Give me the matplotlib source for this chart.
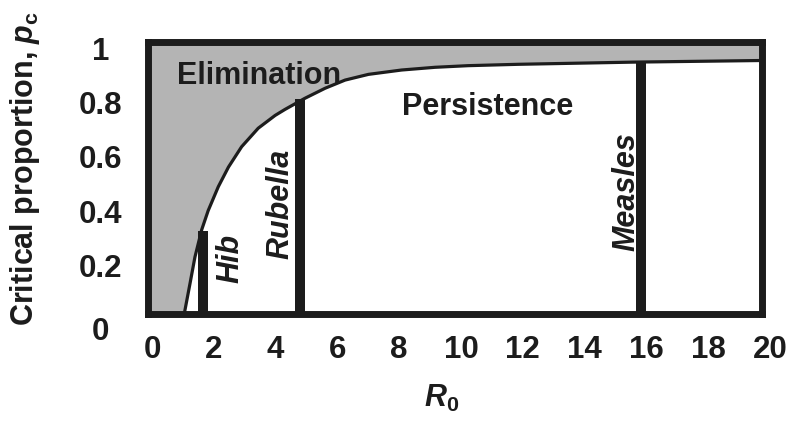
import matplotlib
matplotlib.use("Agg")
import matplotlib.pyplot as plt
import matplotlib.transforms as mtransforms

# ---- data ----
curve_r0 = [1.18, 1.37, 1.53, 1.75, 1.96, 2.29, 2.62, 3.05, 3.59, 4.14, 4.46, 5.11, 5.77,
            6.42, 7.18, 8.26, 9.35, 10.43, 12.06, 15.8, 20.0]
curve_pc = [0.0, 0.113, 0.21, 0.31, 0.38, 0.468, 0.54, 0.615, 0.683, 0.73, 0.752, 0.793, 0.83,
            0.86, 0.881, 0.897, 0.907, 0.913, 0.918, 0.926, 0.932]

diseases = ["Hib", "Rubella", "Measles"]
disease_r0 = [1.80, 4.95, 16.06]
disease_pc = [0.306, 0.79, 0.928]

x_ticks = [0, 2, 4, 6, 8, 10, 12, 14, 16, 18, 20]
x_ticklabels = ["0", "2", "4", "6", "8", "10", "12", "14", "16", "18", "20"]
y_ticks = [0, 0.2, 0.4, 0.6, 0.8, 1.0]
y_ticklabels = ["0", "0.2", "0.4", "0.6", "0.8", "1"]

# ---- style ----
plt.rcParams['font.family'] = ['Liberation Sans', 'DejaVu Sans']
plt.rcParams['font.weight'] = 'bold'
plt.rcParams['mathtext.fontset'] = 'custom'
plt.rcParams['mathtext.rm'] = 'Liberation Sans:bold'
plt.rcParams['mathtext.it'] = 'Liberation Sans:italic:bold'
plt.rcParams['mathtext.bf'] = 'Liberation Sans:bold'

dark = '#1c1c1c'
gray = '#b4b4b4'
fs = 22
tfs = 22.5

fig = plt.figure(figsize=(8.09, 4.29), dpi=100)
ax = fig.add_axes([148/809, 1-314/429, (762-148)/809, (314-42)/429])

ax.set_xlim(0, 20)
ax.set_ylim(0, 1)

# elimination region (gray) above the curve
fill_x = [0.0] + curve_r0
fill_y = [0.0] + curve_pc
ax.fill_between(fill_x, fill_y, 1.0, color=gray, linewidth=0, zorder=1)
ax.plot(curve_r0, curve_pc, color=dark, linewidth=2.3, zorder=3,
        solid_joinstyle='round')

# disease bars
ax.bar(disease_r0, disease_pc, width=0.34, color=dark, zorder=4, linewidth=0)

for sp in ax.spines.values():
    sp.set_linewidth(5)
    sp.set_color(dark)
    sp.set_capstyle('projecting')
    sp.set_zorder(5)

# region labels
ax.text(0.94, 0.875, "Elimination", fontsize=fs, fontweight='bold', color=dark,
        ha='left', va='center', zorder=6)
ax.text(8.27, 0.76, "Persistence", fontsize=fs, fontweight='bold', color=dark,
        ha='left', va='center', zorder=6)

label_pos = {"Hib": (2.68, 0.204), "Rubella": (4.32, 0.404), "Measles": (15.57, 0.45)}
for name in diseases:
    xx, yy = label_pos[name]
    ax.text(xx, yy, name, fontsize=fs, fontweight='bold', fontstyle='italic',
            color=dark, rotation=90, ha='center', va='center', zorder=6)

# ticks
ax.set_xticks(x_ticks)
ax.set_xticklabels(x_ticklabels, fontsize=tfs, fontweight='bold', color=dark)
ax.set_yticks(y_ticks)
ax.set_yticklabels(y_ticklabels, fontsize=tfs, fontweight='bold', color=dark)
ax.tick_params(axis='both', length=0)
ax.tick_params(axis='x', pad=15)
ax.tick_params(axis='y', pad=34)
for lab in ax.get_yticklabels():
    lab.set_horizontalalignment('center')

for lab, v in zip(ax.get_xticklabels(), x_ticks):
    off = mtransforms.ScaledTranslation((4 + 0.2 * v) / 100, 0, fig.dpi_scale_trans)
    lab.set_transform(lab.get_transform() + off)
for lab, v in zip(ax.get_yticklabels(), y_ticks):
    dy = -14 if v == 0 else -6
    off = mtransforms.ScaledTranslation(0, dy / 100, fig.dpi_scale_trans)
    lab.set_transform(lab.get_transform() + off)

fig.text(25/809, 1-169/429, r"Critical proportion, $\mathit{p}_\mathrm{c}$", fontsize=fs,
         fontweight='bold', color=dark, rotation=90, ha='center', va='center')
fig.text(442/809, 1-398/429, r"$\mathit{R}_\mathrm{0}$", fontsize=fs,
         color=dark, ha='center', va='center')

fig.savefig("out.png", dpi=100)
